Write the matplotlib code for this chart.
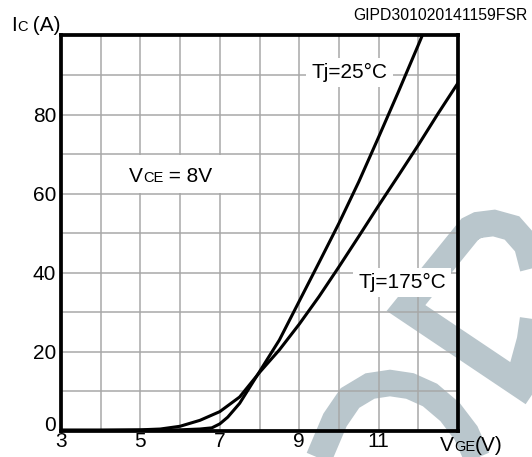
import matplotlib
matplotlib.use('Agg')
import matplotlib.pyplot as plt
from matplotlib.lines import Line2D
from matplotlib.patches import Rectangle

plt.rcParams['font.family'] = ['Liberation Sans', 'DejaVu Sans']

# Transfer characteristic, Ic vs VGE at VCE = 8 V
vge_25 = [3, 4, 5, 6, 6.5, 6.8, 7.0, 7.2, 7.5, 8.0, 8.5, 9.0, 9.5, 10.0, 10.5, 11.0, 11.5, 12.0, 12.1]
ic_25 = [0.2, 0.2, 0.2, 0.3, 0.5, 0.8, 1.8, 3.5, 7.0, 15.0, 23.0, 32.8, 42.6, 52.5, 63.0, 74.3, 85.8, 97.6, 100.0]

vge_175 = [3, 4, 5, 5.5, 6, 6.5, 7, 7.5, 8, 8.5, 9, 9.5, 10, 10.5, 11, 11.5, 12, 12.5, 13]
ic_175 = [0.2, 0.2, 0.3, 0.5, 1.2, 2.7, 4.9, 8.6, 14.8, 20.5, 27.0, 34.0, 41.5, 49.2, 57.0, 64.6, 72.3, 80.3, 88.0]

xticks = list(range(3, 14))
xlabels = ['3', '', '5', '', '7', '', '9', '', '11', '', '']
yticks = list(range(0, 101, 10))
ylabels = ['0', '', '20', '', '40', '', '60', '', '80', '', '']

# watermark outline (figure pixels)
wm_arch = [(318, 460), (335, 420), (350, 398), (370, 386), (390, 383), (410, 386),
           (430, 395), (450, 412), (466, 433), (478, 460)]
wm_loop = [(552, 406), (406, 308), (470, 229), (478, 225), (494, 223), (512, 228),
           (527, 245), (534, 272), (535, 305), (530, 340), (518, 384)]

W, H = 532, 457
fig = plt.figure(figsize=(W / 100, H / 100), dpi=100)


def fx(x):
    return x / W


def fy(y):
    return 1 - y / H


for pts in (wm_arch, wm_loop):
    fig.add_artist(Line2D([fx(p[0]) for p in pts], [fy(p[1]) for p in pts],
                          transform=fig.transFigure, color='#b9c6cc', lw=19,
                          solid_capstyle='butt', solid_joinstyle='miter', zorder=-1))

ax = fig.add_axes([fx(61), fy(431), (458 - 61) / W, (431 - 35.5) / H])
ax.set_facecolor('none')

ax.plot(vge_25, ic_25, color='black', lw=2.2, zorder=2)
ax.plot(vge_175, ic_175, color='black', lw=2.2, zorder=2)

ax.set_xlim(3, 13)
ax.set_ylim(0, 100)
ax.set_xticks(xticks)
ax.set_xticklabels(xlabels)
ax.set_yticks(yticks)
ax.set_yticklabels(ylabels)
ax.tick_params(length=0, labelsize=15)
ax.tick_params(axis='x', pad=1)
ax.tick_params(axis='y', pad=3.5)
ax.get_yticklabels()[0].set_verticalalignment('baseline')
ax.grid(True, color='#a8a8a8', lw=1.1)
ax.set_axisbelow(True)
for sp in ax.spines.values():
    sp.set_linewidth(2.7)

box = dict(boxstyle='square,pad=0.25', fc='white', ec='none')
ax.text(9.31, 89.3, 'Tj=25°C', fontsize=15, va='baseline', ha='left', bbox=box)
ax.text(10.49, 36.2, 'Tj=175°C', fontsize=15, va='baseline', ha='left', bbox=box)

renderer = fig.canvas.get_renderer()


def rich(pieces, x_px, base_px):
    cur = x_px
    for s, size in pieces:
        t = fig.text(fx(cur), fy(base_px), s, fontsize=size, va='baseline', ha='left', zorder=5)
        cur += t.get_window_extent(renderer).width
    return cur


# white patch behind the VCE note
fig.add_artist(Rectangle((fx(122), fy(193)), (235 - 122) / W, (193 - 155) / H,
                         transform=fig.transFigure, fc='white', ec='none', zorder=1))
rich([('V', 15), ('CE', 10.5), (' = 8V', 15)], 129.3, 182.3)
rich([('I', 15), ('C', 10.5), (' (A)', 15)], 11, 30.7)
rich([('V', 15), ('GE', 10.5), ('(V)', 15)], 440, 450.7)

fig.text(fx(527.6), fy(20.4), 'GIPD301020141159FSR', ha='right', va='baseline', fontsize=11.3)

fig.savefig('out.png', dpi=100)
